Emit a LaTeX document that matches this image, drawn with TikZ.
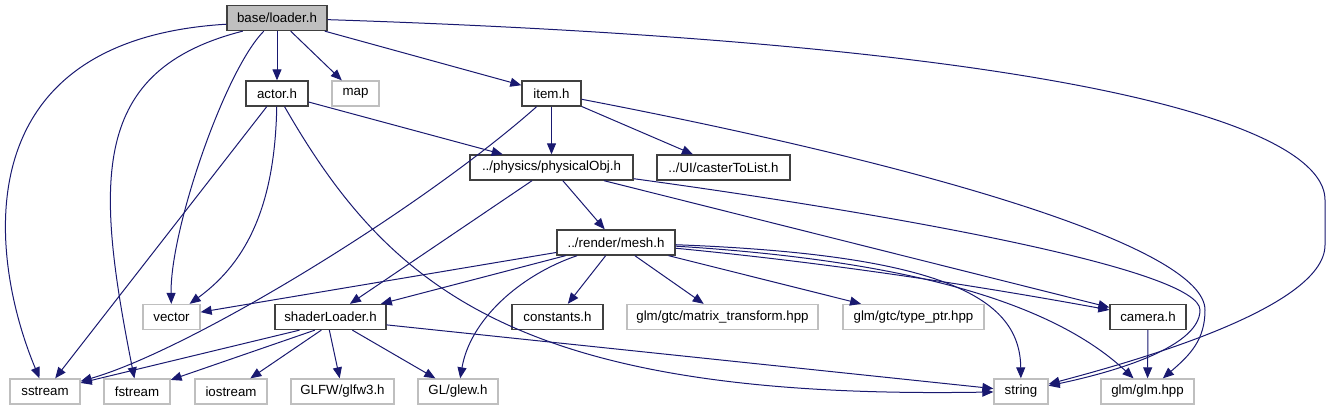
\documentclass[tikz,border=0pt]{standalone}
\usepackage{fontspec}
\setmainfont{Liberation Sans}
\usetikzlibrary{arrows.meta}

\definecolor{edgeblue}{RGB}{25,25,112}
\definecolor{boxgray}{RGB}{191,191,191}
\definecolor{boxdark}{RGB}{64,64,64}

\begin{document}
\begin{tikzpicture}[x=1pt, y=-1pt,
    file/.style={draw=boxdark, line width=1.3pt, minimum height=25pt, inner sep=0pt, font=\fontsize{13.3}{16}\selectfont},
    sys/.style={file, draw=boxgray},
    dep/.style={draw=edgeblue, line width=1pt, -{Triangle[length=11pt,width=9pt]}}]
    \useasboundingbox (0,0) rectangle (1331,411);

    % top
    \node[file, fill=boxgray, minimum width=100pt] (loader) at (277,18) {base/loader.h};

    % second row
    \node[file, minimum width=62pt] (actor) at (277,93.5) {actor.h};
    \node[sys, minimum width=47pt] (map) at (355.5,93.5) {map};
    \node[file, minimum width=59pt] (item) at (551.5,93.5) {item.h};

    % third row
    \node[file, minimum width=163pt] (phys) at (551.5,167.5) {../physics/physicalObj.h};
    \node[file, minimum width=133pt] (caster) at (723.5,167.5) {../UI/casterToList.h};
    \node[file, minimum width=118pt] (mesh) at (616,242.5) {../render/mesh.h};

    % fourth row
    \node[sys, minimum width=57pt] (vector) at (171.5,317) {vector};
    \node[file, minimum width=111pt] (shader) at (330.5,317) {shaderLoader.h};
    \node[file, minimum width=91pt] (const) at (557.5,317) {constants.h};
    \node[sys, minimum width=191pt] (matrix) at (722.5,317) {glm/gtc/matrix\_transform.hpp};
    \node[sys, minimum width=141pt] (typeptr) at (913.5,317) {glm/gtc/type\_ptr.hpp};
    \node[file, minimum width=76pt] (camera) at (1148,317) {camera.h};

    % bottom row
    \node[sys, minimum width=70pt] (sstream) at (45,391.5) {sstream};
    \node[sys, minimum width=66pt] (fstream) at (137,391.5) {fstream};
    \node[sys, minimum width=72pt] (iostream) at (231,391.5) {iostream};
    \node[sys, minimum width=103pt] (glfw) at (342.5,391.5) {GLFW/glfw3.h};
    \node[sys, minimum width=80pt] (glew) at (458,391.5) {GL/glew.h};
    \node[sys, minimum width=54pt] (string) at (1021,391.5) {string};
    \node[sys, minimum width=93pt] (glm) at (1147.5,391.5) {glm/glm.hpp};

    % base/loader.h
    \draw[dep] (loader.187) .. controls (-40,40) and (-10,260) .. (sstream);
    \draw[dep] (loader.201) .. controls (90,70) and (95,180) .. (fstream);
    \draw[dep] (loader) .. controls (225,70) and (170,230) .. (vector);
    \draw[dep] (loader) -- (actor);
    \draw[dep] (loader) -- (map);
    \draw[dep] (loader) -- (item);
    \draw[dep] (loader) .. controls (1100,45) and (1325,130) .. (1325,200) -- (1325,245)
        .. controls (1325,310) and (1120,365) .. (string);

    % actor.h
    \draw[dep] (actor) -- (sstream);
    \draw[dep] (actor) .. controls (275,200) and (250,260) .. (vector);
    \draw[dep] (actor) -- (phys);
    \draw[dep] (actor) .. controls (390,290) and (520,400) .. (string);

    % item.h
    \draw[dep] (item) -- (phys);
    \draw[dep] (item) -- (caster);
    \draw[dep] (item) .. controls (420,210) and (190,350) .. (sstream);
    \draw[dep] (item) .. controls (950,170) and (1205,250) .. (1205,310)
        .. controls (1205,340) and (1190,355) .. (glm);

    % physicalObj.h
    \draw[dep] (phys) -- (shader);
    \draw[dep] (phys) -- (mesh);
    \draw[dep] (phys) -- (camera);
    \draw[dep] (phys) .. controls (900,215) and (1200,270) .. (1200,310)
        .. controls (1200,350) and (1100,375) .. (string);

    % mesh.h
    \draw[dep] (mesh) -- (vector);
    \draw[dep] (mesh) -- (shader);
    \draw[dep] (mesh) .. controls (520,275) and (470,320) .. (glew);
    \draw[dep] (mesh) -- (const);
    \draw[dep] (mesh) -- (matrix);
    \draw[dep] (mesh) -- (typeptr);
    \draw[dep] (mesh) .. controls (850,265) and (1000,290) .. (camera);
    \draw[dep] (mesh) .. controls (950,255) and (1020,300) .. (string);
    \draw[dep] (mesh) .. controls (900,260) and (1050,300) .. (glm);

    % shaderLoader.h
    \draw[dep] (shader.203) -- (sstream);
    \draw[dep] (shader.220) -- (fstream);
    \draw[dep] (shader.235) -- (iostream);
    \draw[dep] (shader.265) -- (glfw);
    \draw[dep] (shader.329) -- (glew);
    \draw[dep] (shader.-8) -- (string);

    % camera.h
    \draw[dep] (camera) -- (glm);
\end{tikzpicture}
\end{document}
